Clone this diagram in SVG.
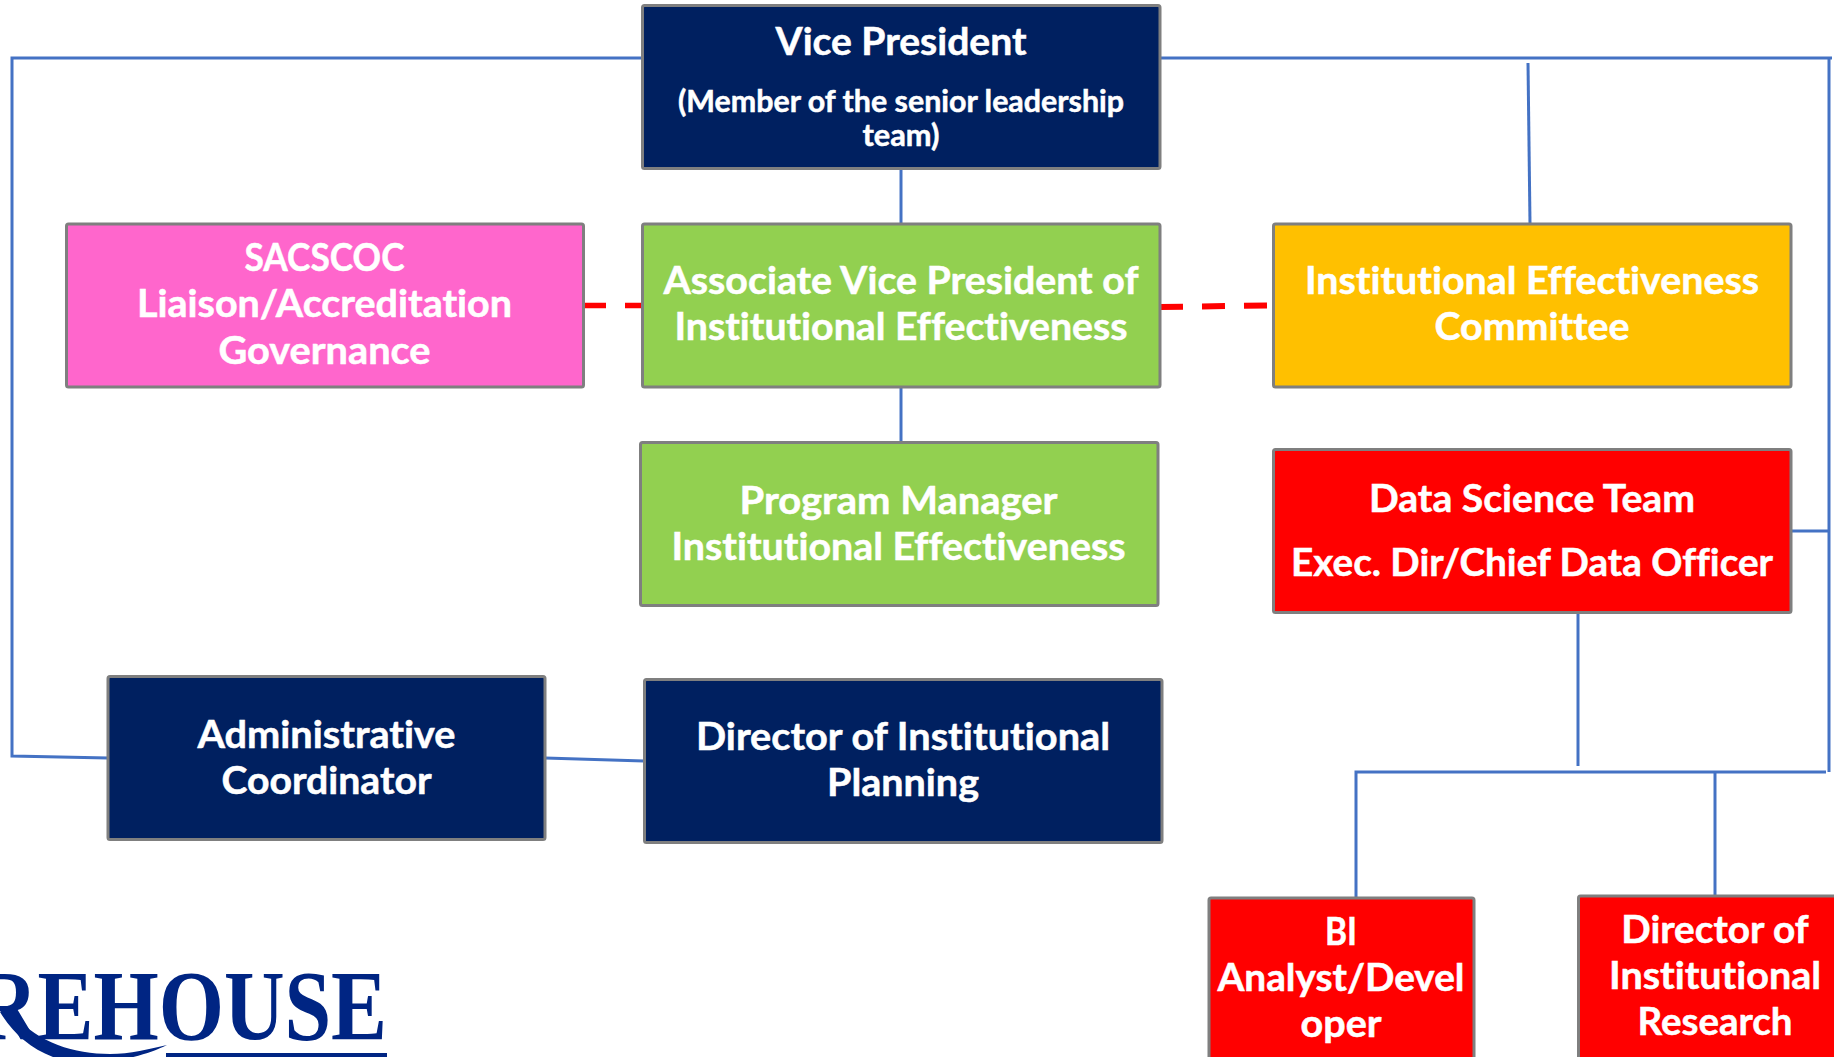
<svg xmlns="http://www.w3.org/2000/svg" width="1834" height="1057" viewBox="0 0 1834 1057">
<style>
.box{stroke:#7f7f7f;stroke-width:3}
text{font-family:"Lato","Open Sans","Liberation Sans",sans-serif;font-weight:700;fill:#fff;stroke:#fff;stroke-width:.5;text-anchor:middle;font-size:38px;font-variant-ligatures:none}
.small{font-size:30px}
.conn{fill:none;stroke:#4472c4;stroke-width:3}
.dash{fill:none;stroke:#ff0000;stroke-width:5.5;stroke-dasharray:23 19}
.logo{font-family:"Liberation Serif",serif;font-size:100px;fill:#002583;stroke:none;text-anchor:end}
</style>
<rect width="1834" height="1057" fill="#fff"/>
<g id="connectors">
<path class="conn" d="M642 58H12V756L108 758"/>
<path class="conn" d="M1160 58H1832"/>
<path class="conn" d="M1829 58V772"/>
<path class="conn" d="M1528 63L1530 224"/>
<path class="conn" d="M1791 531H1829"/>
<path class="conn" d="M1578 613V766"/>
<path class="conn" d="M1826 772H1356V897"/>
<path class="conn" d="M1715 772V895"/>
<path class="conn" d="M901 169V224"/>
<path class="conn" d="M901 387V442"/>
<path class="conn" d="M545 758L644 761"/>
<path class="dash" d="M583 305.500H642"/>
<path class="dash" d="M1160 307L1270 305.500" style="stroke-width:6"/>
</g>
<g id="vp"><rect class="box" x="642.500" y="5.500" width="517.500" height="163" rx="2" fill="#002060"/>
<text x="901" y="55" textLength="251" lengthAdjust="spacingAndGlyphs">Vice President</text>
<text class="small" x="901" y="112" textLength="446" lengthAdjust="spacingAndGlyphs">(Member of the senior leadership</text>
<text class="small" x="901" y="146" textLength="77" lengthAdjust="spacingAndGlyphs">team)</text></g>
<g id="sacscoc"><rect class="box" x="66.500" y="224" width="517" height="163" rx="2" fill="#ff66cc"/>
<text x="324.500" y="271" textLength="160" lengthAdjust="spacingAndGlyphs">SACSCOC</text>
<text x="324.500" y="317" textLength="375" lengthAdjust="spacingAndGlyphs">Liaison/Accreditation</text>
<text x="324.500" y="364" textLength="212" lengthAdjust="spacingAndGlyphs">Governance</text></g>
<g id="avp"><rect class="box" x="642.500" y="224" width="517.500" height="163" rx="2" fill="#92d050"/>
<text x="901" y="294" textLength="475" lengthAdjust="spacingAndGlyphs">Associate Vice President of</text>
<text x="901" y="340" textLength="453" lengthAdjust="spacingAndGlyphs">Institutional Effectiveness</text></g>
<g id="iec"><rect class="box" x="1273.500" y="224" width="517.500" height="163" rx="2" fill="#ffc000"/>
<text x="1532" y="294" textLength="454" lengthAdjust="spacingAndGlyphs">Institutional Effectiveness</text>
<text x="1532" y="340" textLength="195" lengthAdjust="spacingAndGlyphs">Committee</text></g>
<g id="pm"><rect class="box" x="640.500" y="442.500" width="517.500" height="163" rx="2" fill="#92d050"/>
<text x="898.500" y="513.500" textLength="318" lengthAdjust="spacingAndGlyphs">Program Manager</text>
<text x="898.500" y="559.500" textLength="454" lengthAdjust="spacingAndGlyphs">Institutional Effectiveness</text></g>
<g id="ds"><rect class="box" x="1273.500" y="449.500" width="517.500" height="163" rx="2" fill="#ff0000"/>
<text x="1532" y="511.500" textLength="326" lengthAdjust="spacingAndGlyphs">Data Science Team</text>
<text x="1532" y="575.500" textLength="482" lengthAdjust="spacingAndGlyphs">Exec. Dir/Chief Data Officer</text></g>
<g id="admin"><rect class="box" x="108" y="676.500" width="437" height="163" rx="2" fill="#002060"/>
<text x="326.500" y="747.500" textLength="258" lengthAdjust="spacingAndGlyphs">Administrative</text>
<text x="326.500" y="793.500" textLength="210" lengthAdjust="spacingAndGlyphs">Coordinator</text></g>
<g id="dip"><rect class="box" x="644.500" y="679.500" width="517.500" height="163" rx="2" fill="#002060"/>
<text x="903" y="750" textLength="414" lengthAdjust="spacingAndGlyphs">Director of Institutional</text>
<text x="903" y="796" textLength="152" lengthAdjust="spacingAndGlyphs">Planning</text></g>
<g id="bi"><rect class="box" x="1209" y="898" width="265" height="170" rx="2" fill="#ff0000"/>
<text x="1341" y="945" textLength="32" lengthAdjust="spacingAndGlyphs">BI</text>
<text x="1341" y="991" textLength="247" lengthAdjust="spacingAndGlyphs">Analyst/Devel</text>
<text x="1341" y="1037" textLength="81" lengthAdjust="spacingAndGlyphs">oper</text></g>
<g id="dir"><rect class="box" x="1578.500" y="896" width="270" height="170" rx="2" fill="#ff0000"/>
<text x="1715" y="943" textLength="187.500" lengthAdjust="spacingAndGlyphs">Director of</text>
<text x="1715" y="989" textLength="212" lengthAdjust="spacingAndGlyphs">Institutional</text>
<text x="1715" y="1035" textLength="155" lengthAdjust="spacingAndGlyphs">Research</text></g>
<g id="logo">
<text class="logo" x="387" y="1039" textLength="410" lengthAdjust="spacingAndGlyphs">REHOUSE</text>
<path d="M0 1012C14 1035 34 1052 62 1060L120 1060C140 1056 155 1051 167 1045C150 1049 130 1054 110 1054C70 1054 30 1040 8 1006Z" fill="#002583"/>
<rect x="166" y="1053" width="221" height="4" fill="#002583"/>
</g>
</svg>
